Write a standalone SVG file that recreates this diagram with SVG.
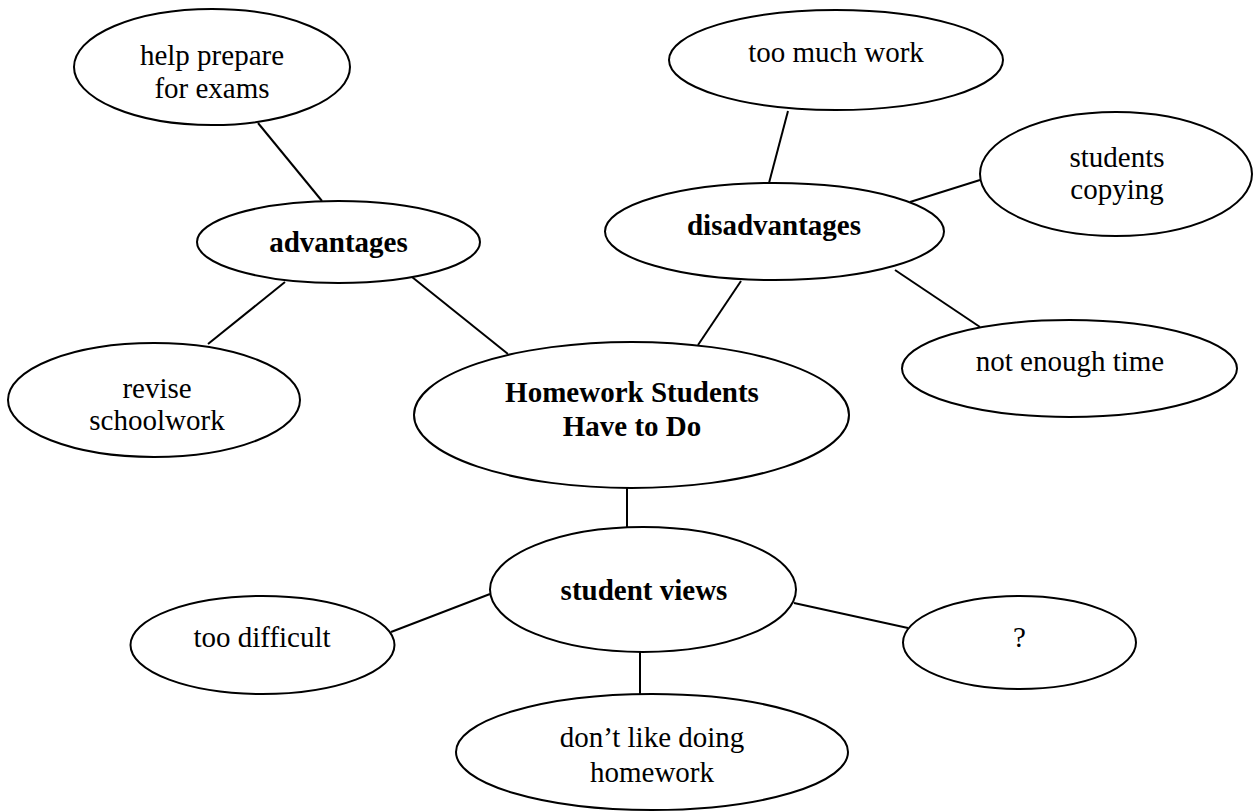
<svg xmlns="http://www.w3.org/2000/svg" width="1258" height="812" viewBox="0 0 1258 812">
<style>
.n ellipse{fill:#fff;stroke:#000;stroke-width:2}
.t{font-family:"Liberation Serif","Times New Roman",serif;font-size:29px;fill:#000;text-anchor:middle}
.b{font-weight:bold}
#connectors line{stroke:#000;stroke-width:2}
</style>
<rect width="1258" height="812" fill="#fff"/>
<g id="connectors">
<line x1="258" y1="123" x2="322" y2="201"/>
<line x1="285" y1="282" x2="208" y2="344"/>
<line x1="412" y1="277" x2="508" y2="354"/>
<line x1="741" y1="281" x2="698" y2="345"/>
<line x1="788" y1="111" x2="769" y2="183"/>
<line x1="910" y1="202" x2="980" y2="180"/>
<line x1="895" y1="270" x2="980" y2="327"/>
<line x1="627" y1="488" x2="627" y2="527"/>
<line x1="490" y1="594" x2="391" y2="632"/>
<line x1="794" y1="603" x2="908" y2="628"/>
<line x1="640" y1="652" x2="640" y2="694"/>
</g>
<g id="help" class="n"><ellipse cx="212" cy="67" rx="138" ry="58"/><text class="t" x="212" y="65">help prepare</text><text class="t" x="212" y="98">for exams</text></g>
<g id="toomuch" class="n"><ellipse cx="836" cy="60" rx="167" ry="50"/><text class="t" x="836" y="62">too much work</text></g>
<g id="copying" class="n"><ellipse cx="1116" cy="174" rx="136" ry="62"/><text class="t" x="1117" y="167">students</text><text class="t" x="1117" y="199">copying</text></g>
<g id="advantages" class="n"><ellipse cx="338.5" cy="242" rx="141.5" ry="41"/><text class="t b" x="338.5" y="252">advantages</text></g>
<g id="disadvantages" class="n"><ellipse cx="774.5" cy="231.5" rx="169.5" ry="48.5"/><text class="t b" x="774" y="235">disadvantages</text></g>
<g id="revise" class="n"><ellipse cx="154" cy="400" rx="146" ry="57"/><text class="t" x="157" y="398">revise</text><text class="t" x="157" y="430">schoolwork</text></g>
<g id="central" class="n"><ellipse cx="631.5" cy="415" rx="217.5" ry="73"/><text class="t b" x="632" y="402">Homework Students</text><text class="t b" x="632" y="436">Have to Do</text></g>
<g id="notime" class="n"><ellipse cx="1069.5" cy="368.5" rx="167.5" ry="48.5"/><text class="t" x="1070" y="371">not enough time</text></g>
<g id="views" class="n"><ellipse cx="643" cy="589.5" rx="153" ry="62.5"/><text class="t b" x="644" y="600">student views</text></g>
<g id="difficult" class="n"><ellipse cx="262.5" cy="645" rx="132" ry="49"/><text class="t" x="262" y="647">too difficult</text></g>
<g id="question" class="n"><ellipse cx="1019.5" cy="642.5" rx="116.5" ry="46.5"/><text class="t" x="1019.5" y="647">?</text></g>
<g id="dontlike" class="n"><ellipse cx="652" cy="752" rx="196" ry="58"/><text class="t" x="652" y="747">don’t like doing</text><text class="t" x="652" y="782">homework</text></g>
</svg>
